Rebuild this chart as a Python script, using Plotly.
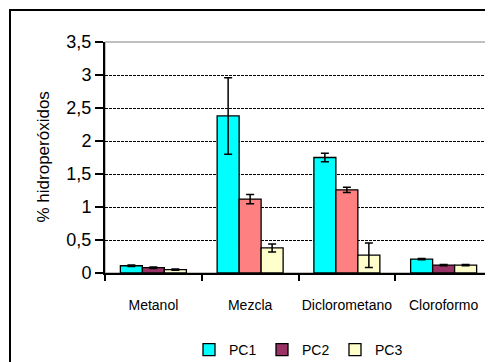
import plotly.graph_objects as go

categories = ["Metanol", "Mezcla", "Diclorometano", "Cloroformo"]
pc1 = [0.11, 2.38, 1.75, 0.21]
pc1_err = [0.01, 0.58, 0.065, 0.01]
pc2 = [0.08, 1.12, 1.26, 0.12]
pc2_err = [0.01, 0.07, 0.04, 0.01]
pc3 = [0.05, 0.38, 0.27, 0.12]
pc3_err = [0.01, 0.06, 0.185, 0.01]
y_ticks = [0, 0.5, 1, 1.5, 2, 2.5, 3, 3.5]

pc1_colors = ["#00FFFF"] * 4
pc2_colors = ["#993366", "#FF8080", "#FF8080", "#993366"]
pc3_colors = ["#FFFFCC"] * 4

fig = go.Figure()
for name, vals, errs, cols in [("PC1", pc1, pc1_err, pc1_colors),
                               ("PC2", pc2, pc2_err, pc2_colors),
                               ("PC3", pc3, pc3_err, pc3_colors)]:
    fig.add_trace(go.Bar(
        x=categories, y=vals, name=name,
        marker=dict(color=cols, line=dict(color="black", width=1.3)),
        error_y=dict(type="data", array=errs, visible=True, color="black",
                     thickness=1.5, width=4),
    ))

# page has an 8px body margin; figure sized to fit the window
W, H = 485, 354
L, T, R = 97, 34, 1
ph = 231
B = H - T - ph
pw = W - L - R
y0_plot = T + ph  # figure y of the x axis

fig.update_layout(
    width=W, height=H,
    margin=dict(l=L, r=R, t=T, b=B, autoexpand=False),
    paper_bgcolor="white", plot_bgcolor="white",
    barmode="group", bargap=0.318, bargroupgap=0,
    separators=",.",
    font=dict(family="Liberation Sans, Arial", color="black"),
    showlegend=True,
    legend=dict(orientation="h", x=0.5, xanchor="center",
                y=(y0_plot - 342) / ph, yanchor="middle",
                font=dict(size=14, family="Liberation Sans, Arial"),
                itemwidth=30, traceorder="normal",
                entrywidth=28, entrywidthmode="pixels",
                bgcolor="rgba(0,0,0,0)"),
    xaxis=dict(
        tickson="boundaries", ticks="outside", ticklen=6, tickwidth=1.5,
        tickcolor="black", showline=True, linecolor="black", linewidth=2,
        tickfont=dict(size=14, family="Liberation Sans Narrow, Arial Narrow, Liberation Sans"),
        ticklabelstandoff=18, showgrid=False, tickangle=0, automargin=False,
    ),
    yaxis=dict(
        range=[0, 3.5], tickvals=y_ticks, ticks="outside", ticklen=8,
        tickwidth=1.5, tickcolor="black", showline=True, linecolor="black",
        linewidth=2, tickfont=dict(size=18), showgrid=True,
        gridcolor="black", griddash="3px,1px", gridwidth=1, zeroline=False,
        tickformat=".1~f", automargin=False,
    ),
    shapes=[
        dict(type="rect", xref="paper", yref="paper", x0=0, x1=1, y0=0, y1=1,
             line=dict(color="#808080", width=1), layer="between"),
        dict(type="rect", xref="paper", yref="paper",
             x0=(2 - L) / pw, x1=1.1, y0=-0.6, y1=(y0_plot - 2) / ph,
             line=dict(color="black", width=2), layer="above"),
    ],
    annotations=[
        dict(text="% hidroperóxidos", textangle=-90, xref="paper", yref="paper",
             x=(35 - L) / pw, y=0.5, xanchor="center", yanchor="middle",
             showarrow=False, font=dict(size=17)),
    ],
)

fig.write_html("out.html")
